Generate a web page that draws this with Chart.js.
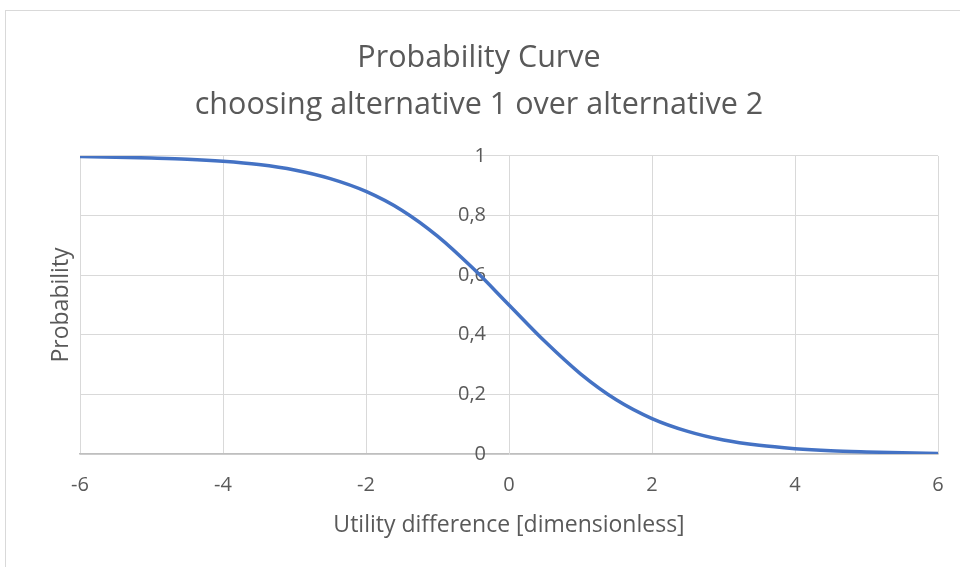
<!DOCTYPE html>
<html>
<head>
<meta charset="utf-8">
<script src="https://cdn.jsdelivr.net/npm/chart.js@4.4.1/dist/chart.umd.min.js"></script>
<style>
  html, body { margin: 0; padding: 0; background: #ffffff; }
  #frame { position: absolute; left: 5px; top: 10px; width: 1000px; height: 600px; border: 1px solid #d9d9d9; box-sizing: border-box; }
  #wrap { position: absolute; left: 0; top: 0; width: 960px; height: 567px; }
</style>
</head>
<body>
<div id="frame"></div>
<div id="wrap"><canvas id="c" width="960" height="567"></canvas></div>
<script>
// ---- data ----
const utilityDiff = [-6, -5.5, -5, -4.5, -4, -3.5, -3, -2.5, -2, -1.5, -1, -0.5, 0, 0.5, 1, 1.5, 2, 2.5, 3, 3.5, 4, 4.5, 5, 5.5, 6];
const probability = [0.998, 0.996, 0.993, 0.989, 0.982, 0.971, 0.953, 0.924, 0.881, 0.818, 0.731, 0.622, 0.5, 0.378, 0.269, 0.182, 0.119, 0.076, 0.047, 0.029, 0.018, 0.011, 0.007, 0.004, 0.002];
const xTicks = [-6, -4, -2, 0, 2, 4, 6];
const xTickLabels = ['-6', '-4', '-2', '0', '2', '4', '6'];
const yTicks = [0, 0.2, 0.4, 0.6, 0.8, 1];
const yTickLabels = ['0', '0,2', '0,4', '0,6', '0,8', '1'];
const titleLines = ['Probability Curve', 'choosing alternative 1 over alternative 2'];
const xTitle = 'Utility difference [dimensionless]';
const yTitle = 'Probability';

const FONT = '"Open Sans", "Noto Sans", sans-serif';
const TEXT = '#595959';
const GRID = '#d9d9d9';

const points = utilityDiff.map((x, i) => ({ x: x, y: probability[i] }));

// shifts the y-axis tick labels (axis sits at x = 0) a little to the left of the axis line
const yLabelGap = {
  id: 'yLabelGap',
  beforeDraw(chart) {
    const s = chart.scales.y;
    const items = s.getLabelItems();
    items.forEach(it => {
      if (!it._shifted) {
        it.options.translation = [it.options.translation[0] - 23, it.options.translation[1]];
        it._shifted = true;
      }
    });
  }
};

new Chart(document.getElementById('c'), {
  type: 'line',
  data: {
    datasets: [{
      data: points,
      borderColor: '#4472C4',
      borderWidth: 3.5,
      pointRadius: 0,
      fill: false,
      cubicInterpolationMode: 'monotone',
      xAxisID: 'x',
      yAxisID: 'y'
    }]
  },
  plugins: [yLabelGap],
  options: {
    responsive: false,
    animation: false,
    layout: { padding: { left: 20, right: 22, top: 0, bottom: 0 } },
    plugins: {
      legend: { display: false },
      tooltip: { enabled: false },
      title: {
        display: true,
        text: titleLines,
        color: TEXT,
        font: { family: FONT, size: 30.5, weight: 'normal', lineHeight: 1.54 },
        padding: { top: 35, bottom: 27 }
      }
    },
    scales: {
      x: {
        type: 'linear',
        position: 'bottom',
        min: -6, max: 6,
        afterBuildTicks: (s) => { s.ticks = xTicks.map(v => ({ value: v })); },
        afterFit: (s) => { s.height = 113; s.paddingLeft = 0; s.paddingRight = 0; },
        ticks: {
          color: TEXT,
          font: { family: FONT, size: 20 },
          padding: 19,
          maxRotation: 0,
          callback: (v) => xTickLabels[xTicks.indexOf(v)]
        },
        grid: { color: GRID, lineWidth: 1, drawTicks: false },
        border: { color: '#bfbfbf', width: 1.5 },
        title: {
          display: true,
          text: xTitle,
          color: TEXT,
          font: { family: FONT, size: 23, lineHeight: 1.2 },
          padding: { top: 0, bottom: 28 }
        }
      },
      y: {
        type: 'linear',
        position: { x: 0 },
        min: 0, max: 1,
        afterBuildTicks: (s) => { s.ticks = yTicks.map(v => ({ value: v })); },
        afterFit: (s) => { s.paddingLeft = 0; s.paddingRight = 0; },
        ticks: {
          color: TEXT,
          font: { family: FONT, size: 20 },
          padding: 8,
          callback: (v) => yTickLabels[yTicks.indexOf(v)]
        },
        grid: { color: GRID, lineWidth: 1, drawTicks: false },
        border: { color: GRID, width: 1 }
      },
      yTitleAxis: {
        type: 'linear',
        position: 'left',
        min: 0, max: 1,
        afterFit: (s) => { s.width = 60; },
        ticks: { display: false },
        grid: { display: false, drawTicks: false },
        border: { display: false },
        title: {
          display: true,
          text: yTitle,
          color: TEXT,
          font: { family: FONT, size: 23, lineHeight: 1.2 },
          padding: { top: 28, bottom: 0 }
        }
      }
    }
  }
});
</script>
</body>
</html>
